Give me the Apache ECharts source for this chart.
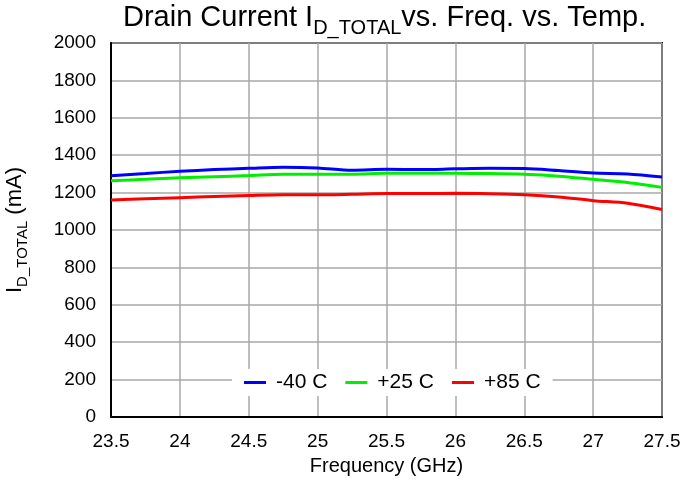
<!DOCTYPE html>
<html>
<head>
<meta charset="utf-8">
<script src="https://cdn.jsdelivr.net/npm/echarts@6/dist/echarts.min.js"></script>
<style>html,body{margin:0;padding:0;background:#fff}#c{width:684px;height:482px}</style>
</head>
<body>
<div id="c"></div>
<script>
var freqs = [23.5, 23.75, 24, 24.25, 24.5, 24.75, 25, 25.25, 25.5, 25.75, 26, 26.25, 26.5, 26.75, 27, 27.25, 27.5];
var seriesNames = ['-40 C', '+25 C', '+85 C'];
var seriesColors = ['#0000ff', '#00ee00', '#ff0000'];
var blue  = [1290, 1302, 1314, 1323, 1330, 1336, 1332, 1320, 1325, 1323, 1327, 1330, 1329, 1318, 1305, 1300, 1284];
var green = [1263, 1271, 1279, 1285, 1291, 1298, 1298, 1298, 1303, 1303, 1303, 1302, 1298, 1288, 1271, 1254, 1228];
var red   = [1161, 1167, 1173, 1179, 1184, 1188, 1188, 1191, 1195, 1195, 1196, 1194, 1189, 1177, 1157, 1143, 1110];
var yTicks = [0, 200, 400, 600, 800, 1000, 1200, 1400, 1600, 1800, 2000];

var FONT = 'Liberation Sans';
function pairs(v){ return freqs.map(function(f,i){ return [f, v[i]]; }); }
var values = [blue, green, red];

var chart = echarts.init(document.getElementById('c'));
chart.setOption({
  animation: false,
  backgroundColor: '#fff',
  textStyle: { fontFamily: FONT },
  title: {
    text: '{m|Drain Current I}{s|D_TOTAL}{m|vs. Freq. vs. Temp.}',
    left: 118, top: -3,
    textStyle: {
      fontWeight: 'normal',
      rich: {
        m: { fontSize: 29, fontFamily: FONT, fontWeight: 'normal', color: '#000', lineHeight: 38, verticalAlign: 'top', padding: [1,0,0,0] },
        s: { fontSize: 20, fontFamily: FONT, fontWeight: 'normal', color: '#000', lineHeight: 38, verticalAlign: 'top', padding: [16,0,0,0] }
      }
    }
  },
  grid: { left: 111, right: 22, top: 43, bottom: 65, show: true, borderColor: '#000', borderWidth: 2, containLabel: false, outerBoundsMode: 'none' },
  legend: {
    data: seriesNames,
    left: 232, top: 369,
    backgroundColor: '#fff',
    padding: [3, 12, 3, 12],
    icon: 'rect',
    itemWidth: 22, itemHeight: 3,
    itemGap: 18,
    textStyle: { fontSize: 21, fontFamily: FONT, color: '#000', padding: [0,0,0,5] }
  },
  xAxis: {
    type: 'value', min: 23.5, max: 27.5, interval: 0.5,
    name: 'Frequency (GHz)', nameLocation: 'middle', nameGap: 39,
    nameTextStyle: { fontSize: 20, fontFamily: FONT, color: '#000' },
    axisLine: { show: true, lineStyle: { color: '#000', width: 2 } },
    axisTick: { show: false },
    axisLabel: { fontSize: 19, fontFamily: FONT, color: '#000', margin: 15 },
    splitLine: { show: true, lineStyle: { color: '#a8a8a8', width: 1.5 } }
  },
  yAxis: {
    type: 'value', min: 0, max: 2000, interval: 200,
    name: '{m|I}{s|D_TOTAL}{m| (mA)}', nameLocation: 'middle', nameGap: 77, nameRotate: 90,
    nameTextStyle: {
      rich: {
        m: { fontSize: 22, fontFamily: FONT, color: '#000', lineHeight: 30, verticalAlign: 'top', padding: [0,0,0,0] },
        s: { fontSize: 15, fontFamily: FONT, color: '#000', lineHeight: 30, verticalAlign: 'top', padding: [11,0,0,0] }
      }
    },
    axisLine: { show: true, lineStyle: { color: '#000', width: 2 } },
    axisTick: { show: false },
    axisLabel: { fontSize: 19, fontFamily: FONT, color: '#000', margin: 15,
      formatter: function(v){ return yTicks.indexOf(v) >= 0 ? String(v) : ''; } },
    splitLine: { show: true, lineStyle: { color: '#a8a8a8', width: 1.5 } }
  },
  series: seriesNames.map(function(n, i){
    return {
      name: n, type: 'line', data: pairs(values[i]),
      smooth: 0.3, showSymbol: false, symbol: 'none',
      lineStyle: { color: seriesColors[i], width: 3 },
      itemStyle: { color: seriesColors[i] }
    };
  })
});
</script>
</body>
</html>
